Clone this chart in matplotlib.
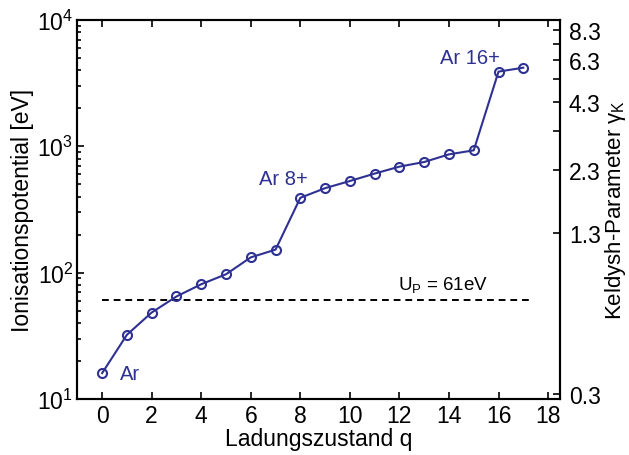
import numpy as np
import matplotlib
matplotlib.use("Agg")
import matplotlib.pyplot as plt

plt.rcParams["font.family"] = ["Liberation Sans", "DejaVu Sans"]
plt.rcParams["mathtext.fontset"] = "custom"
plt.rcParams["mathtext.rm"] = "Liberation Sans"
plt.rcParams["mathtext.it"] = "Liberation Sans:italic"

# charge state and ionisation potential (eV)
charge = [0, 1, 2, 3, 4, 5, 6, 7, 8, 9, 10, 11, 12, 13, 14, 15, 16, 17]
ip_ev = [16.0, 32.2, 48.3, 64.7, 80.9, 97.0, 132, 152, 391, 466, 531, 608,
         690, 751, 863, 929, 3900, 4190]
up_ev = 61.0
gamma_ticks = [0.3, 1.3, 2.3, 3.3, 4.3, 5.3, 6.3, 7.3, 8.3]
gamma_labels = ["0.3", "1.3", "2.3", "", "4.3", "", "6.3", "", "8.3"]

blue = "#2e3192"
fs = 16.5

fig = plt.figure(figsize=(6.29, 4.56), dpi=100)
ax = fig.add_axes([0.123, 0.123, 0.768, 0.831])

ax.plot(charge, ip_ev, color=blue, lw=1.5, marker="o", ms=6.5, mfc="none",
        mec=blue, mew=1.5, zorder=3)
ax.plot([0, 17.3], [up_ev, up_ev], color="black", lw=1.4, ls=(0, (3.5, 2.5)))

ax.set_yscale("log")
ax.set_ylim(10, 1e4)
ax.set_xlim(-1, 18.5)
ax.set_xticks(range(0, 19, 2))

ax.text(0.72, ip_ev[0], "Ar", color=blue, fontsize=14.5, ha="left", va="center")
ax.text(7.3, 560, "Ar 8+", color=blue, fontsize=14.5, ha="center", va="center")
ax.text(14.85, 5070, "Ar 16+", color=blue, fontsize=14.5, ha="center",
        va="center")
ax.text(13.76, 81, r"U$_\mathrm{P}$ = 61eV", color="black", fontsize=13.5,
        ha="center", va="center")

ax.set_xlabel("Ladungszustand q", fontsize=fs, labelpad=0)
ax.set_ylabel("Ionisationspotential [eV]", fontsize=fs, labelpad=2)

ax.tick_params(axis="both", which="both", direction="in", labelsize=fs,
               width=1.2)
ax.tick_params(axis="x", top=True, length=5, pad=4)
ax.tick_params(axis="y", which="major", length=5, pad=3)
ax.tick_params(axis="y", which="minor", length=3)
for s in ax.spines.values():
    s.set_linewidth(1.5)

# Keldysh parameter on the right: gamma = sqrt(Ip / (2 Up))
ax2 = ax.twinx()
ax2.set_yscale("log")
ax2.set_ylim(np.sqrt(10 / (2 * up_ev)), np.sqrt(1e4 / (2 * up_ev)))
ax2.set_yticks(gamma_ticks)
ax2.set_yticklabels(gamma_labels)
ax2.yaxis.set_minor_locator(matplotlib.ticker.NullLocator())
ax2.tick_params(axis="y", direction="in", length=5, width=1.2, labelsize=fs,
                pad=6)
ax2.set_ylabel("Keldysh-Parameter γ$_\\mathrm{K}$", fontsize=16, labelpad=2)
for s in ax2.spines.values():
    s.set_linewidth(1.5)

fig.savefig("out.png", dpi=100)
